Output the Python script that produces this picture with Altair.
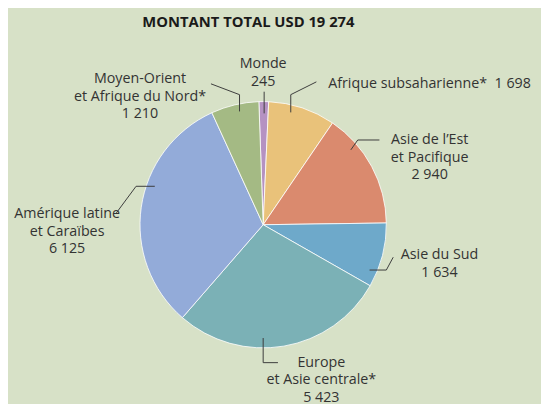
import math
import altair as alt
import pandas as pd

# ---- data ----
regions = [
    "Monde",
    "Afrique subsaharienne",
    "Asie de l'Est et Pacifique",
    "Asie du Sud",
    "Europe et Asie centrale",
    "Amérique latine et Caraïbes",
    "Moyen-Orient et Afrique du Nord",
]
amounts = [245, 1698, 2940, 1634, 5423, 6125, 1210]
label_lines = [
    ["Monde", "245"],
    ["Afrique subsaharienne*\u00a0\u00a01\u00a0698"],
    ["Asie de l’Est", "et Pacifique", "2 940"],
    ["Asie du Sud", "1 634"],
    ["Europe", "et Asie centrale*", "5 423"],
    ["Amérique latine", "et Caraïbes", "6 125"],
    ["Moyen-Orient", "et Afrique du Nord*", "1 210"],
]
title_text = "MONTANT TOTAL USD 19 274"

# ---- style / layout ----
colors = ["#b592c2", "#e9c27a", "#da8a6e", "#6ea9ca", "#7bb1b6", "#93abd9", "#a4ba84"]
bg = "#d7e1c7"
W, H = 541, 396
cx, cy, R = 259, 217, 125
start = -0.035
font = "Open Sans"
txt_color = "#333333"
fsize = 14.5

# label anchor (x, first line y, align) in chart pixels
label_pos = [
    (259, 54, "center"),
    (325, 74, "left"),
    (428, 131, "center"),
    (438, 248, "center"),
    (318, 357, "center"),
    (60, 206, "center"),
    (134, 69, "center"),
]
line_h = 18

# leader polylines in chart pixels
leaders = [
    [(260, 104), (260, 82)],
    [(287, 103), (287, 85), (313, 72)],
    [(348, 141), (355, 131), (377, 131)],
    [(367, 263), (384, 263), (391, 250)],
    [(259, 332), (259, 357), (274, 357)],
    [(149, 178), (130, 178), (110, 205)],
    [(235, 102), (235, 85), (206, 74)],
]

df = pd.DataFrame({"region": regions, "amount": amounts, "idx": list(range(len(regions)))})

pie = (
    alt.Chart(df)
    .mark_arc(radius=R, stroke="white", strokeWidth=0.8)
    .encode(
        theta=alt.Theta("amount:Q", stack=True,
                        scale=alt.Scale(range=[start, start + 2 * math.pi])),
        color=alt.Color("region:N", scale=alt.Scale(domain=regions, range=colors), legend=None),
        order=alt.Order("idx:Q"),
        x=alt.value(cx),
        y=alt.value(cy),
    )
)

rows = []
for (lx, ly, al), lines in zip(label_pos, label_lines):
    for k, t in enumerate(lines):
        rows.append({"t": t, "x": lx, "y": ly + k * line_h, "al": al})
lab_df = pd.DataFrame(rows)

def text_layer(al):
    return (
        alt.Chart(lab_df[lab_df.al == al])
        .mark_text(font=font, fontSize=fsize, color=txt_color, align=al, baseline="middle")
        .encode(x=alt.X("x:Q", scale=None), y=alt.Y("y:Q", scale=None), text="t:N")
    )

lrows = []
for i, pts in enumerate(leaders):
    for j, (px, py) in enumerate(pts):
        lrows.append({"g": i, "o": j, "x": px, "y": py})
lead_df = pd.DataFrame(lrows)
lead = (
    alt.Chart(lead_df)
    .mark_line(color="#3c3c3c", strokeWidth=1)
    .encode(x=alt.X("x:Q", scale=None), y=alt.Y("y:Q", scale=None),
            detail="g:N", order="o:Q")
)

title = (
    alt.Chart(pd.DataFrame({"t": [title_text]}))
    .mark_text(font=font, fontSize=15, fontWeight="bold", color="#1a1a1a",
               align="center", baseline="middle")
    .encode(text="t:N", x=alt.value(244), y=alt.value(11))
)

chart = (
    alt.layer(pie, lead, text_layer("center"), text_layer("left"), title)
    .properties(width=W, height=H, background=bg, padding=0,
                autosize=alt.AutoSizeParams(type="none"))
    .configure_view(stroke=None)
)

chart.save("out.html", embed_options={"renderer": "svg", "actions": False})
